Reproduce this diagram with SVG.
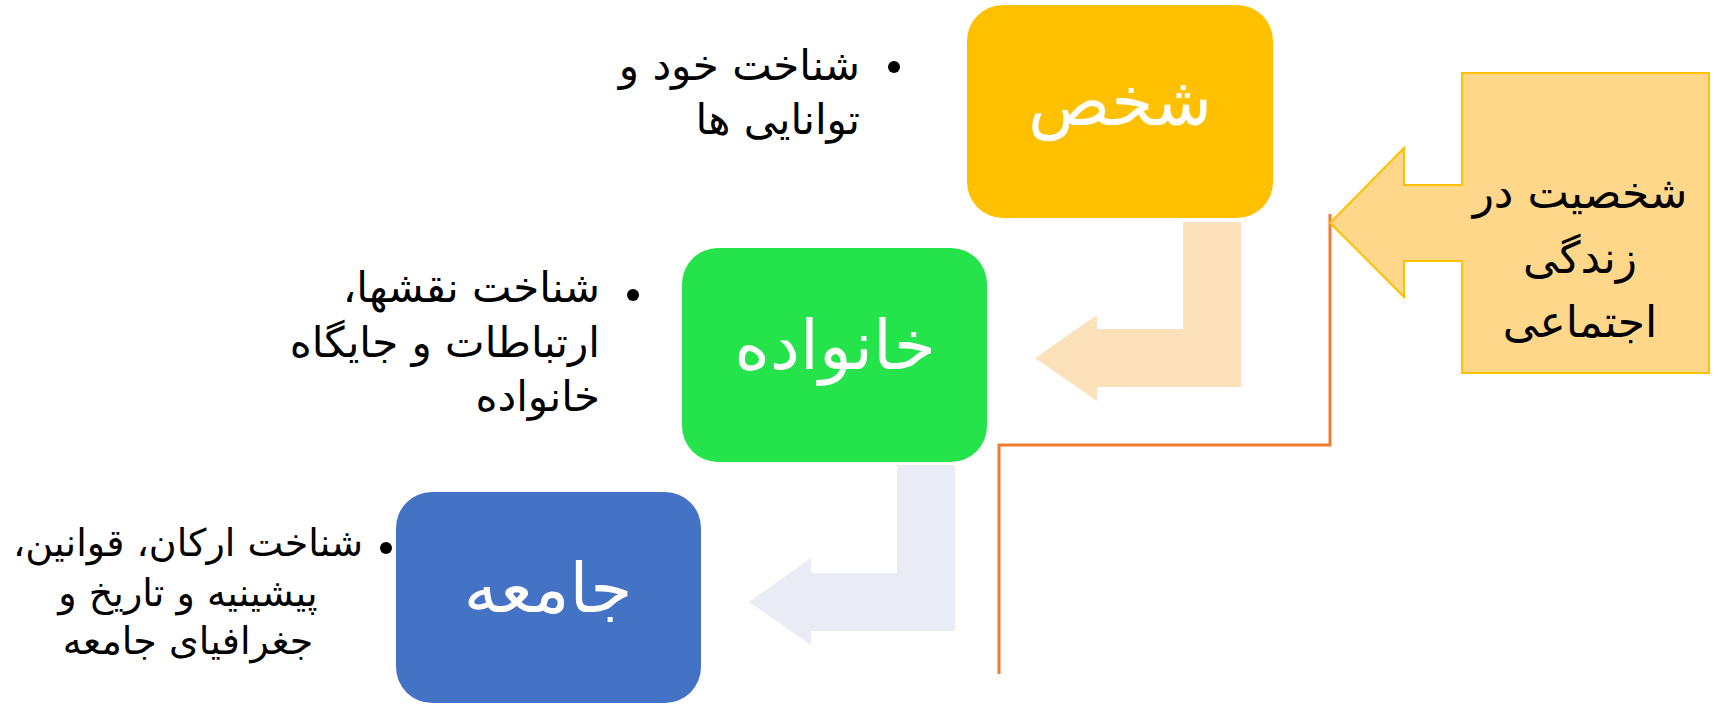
<svg xmlns="http://www.w3.org/2000/svg" width="1724" height="704" viewBox="0 0 1724 704">
<style>
.lbl{font-family:"DejaVu Sans",sans-serif;font-size:68px;fill:#FFFFFF;text-anchor:middle;direction:rtl}
.bt{font-family:"DejaVu Sans",sans-serif;font-size:42px;fill:#000000;direction:rtl}
.bs{font-family:"DejaVu Sans",sans-serif;font-size:38px;fill:#000000;direction:rtl;text-anchor:middle}
.ct{font-family:"DejaVu Sans",sans-serif;font-size:44px;fill:#000000;direction:rtl;text-anchor:middle}
.dot{fill:#000000}
</style>
<rect width="1724" height="704" fill="#FFFFFF"/>
<g id="connectors">
<path d="M1183,222 H1241 V387 H1097 V401 L1035,358 L1097,315 V329 H1183 Z" fill="#FDE1BB"/>
<path d="M897,465 H955 V631 H811 V645 L749,602 L811,558 V573 H897 Z" fill="#E9EBF5"/>
<polyline points="1330,214 1330,445 999,445 999,674" fill="none" stroke="#ED7D31" stroke-width="3"/>
</g>
<g id="node-person">
<rect x="967" y="5" width="306" height="213" rx="36" fill="#FFC000"/>
<text class="lbl" x="1120" y="125">شخص</text>
</g>
<g id="node-family">
<rect x="682" y="248" width="305" height="214" rx="36" fill="#24E34B"/>
<text class="lbl" x="835" y="369">خانواده</text>
</g>
<g id="node-society">
<rect x="396" y="492" width="305" height="211" rx="36" fill="#4472C4"/>
<text class="lbl" x="548" y="612">جامعه</text>
</g>
<g id="node-social">
<path d="M1462,73 H1709 V373 H1462 V261 H1404 V297 L1330,223 L1404,148 V185 H1462 Z" fill="#FFD78A" stroke="#FFC000" stroke-width="2"/>
<text class="ct" x="1580" y="208">شخصیت در</text>
<text class="ct" x="1580" y="273">زندگی</text>
<text class="ct" x="1580" y="337">اجتماعی</text>
</g>
<g id="bullet-person">
<circle class="dot" cx="894" cy="67" r="6"/>
<text class="bt" x="860" y="80" text-anchor="start">شناخت خود و</text>
<text class="bt" x="860" y="134" text-anchor="start">توانایی ها</text>
</g>
<g id="bullet-family">
<circle class="dot" cx="633" cy="295" r="6"/>
<text class="bt" x="600" y="302" text-anchor="start">شناخت نقشها،</text>
<text class="bt" x="600" y="357" text-anchor="start">ارتباطات و جایگاه</text>
<text class="bt" x="600" y="411" text-anchor="start">خانواده</text>
</g>
<g id="bullet-society">
<circle class="dot" cx="386" cy="548" r="6"/>
<text class="bs" x="188" y="556">شناخت ارکان، قوانین،</text>
<text class="bs" x="188" y="606">پیشینیه و تاریخ و</text>
<text class="bs" x="188" y="654">جغرافیای جامعه</text>
</g>
</svg>
